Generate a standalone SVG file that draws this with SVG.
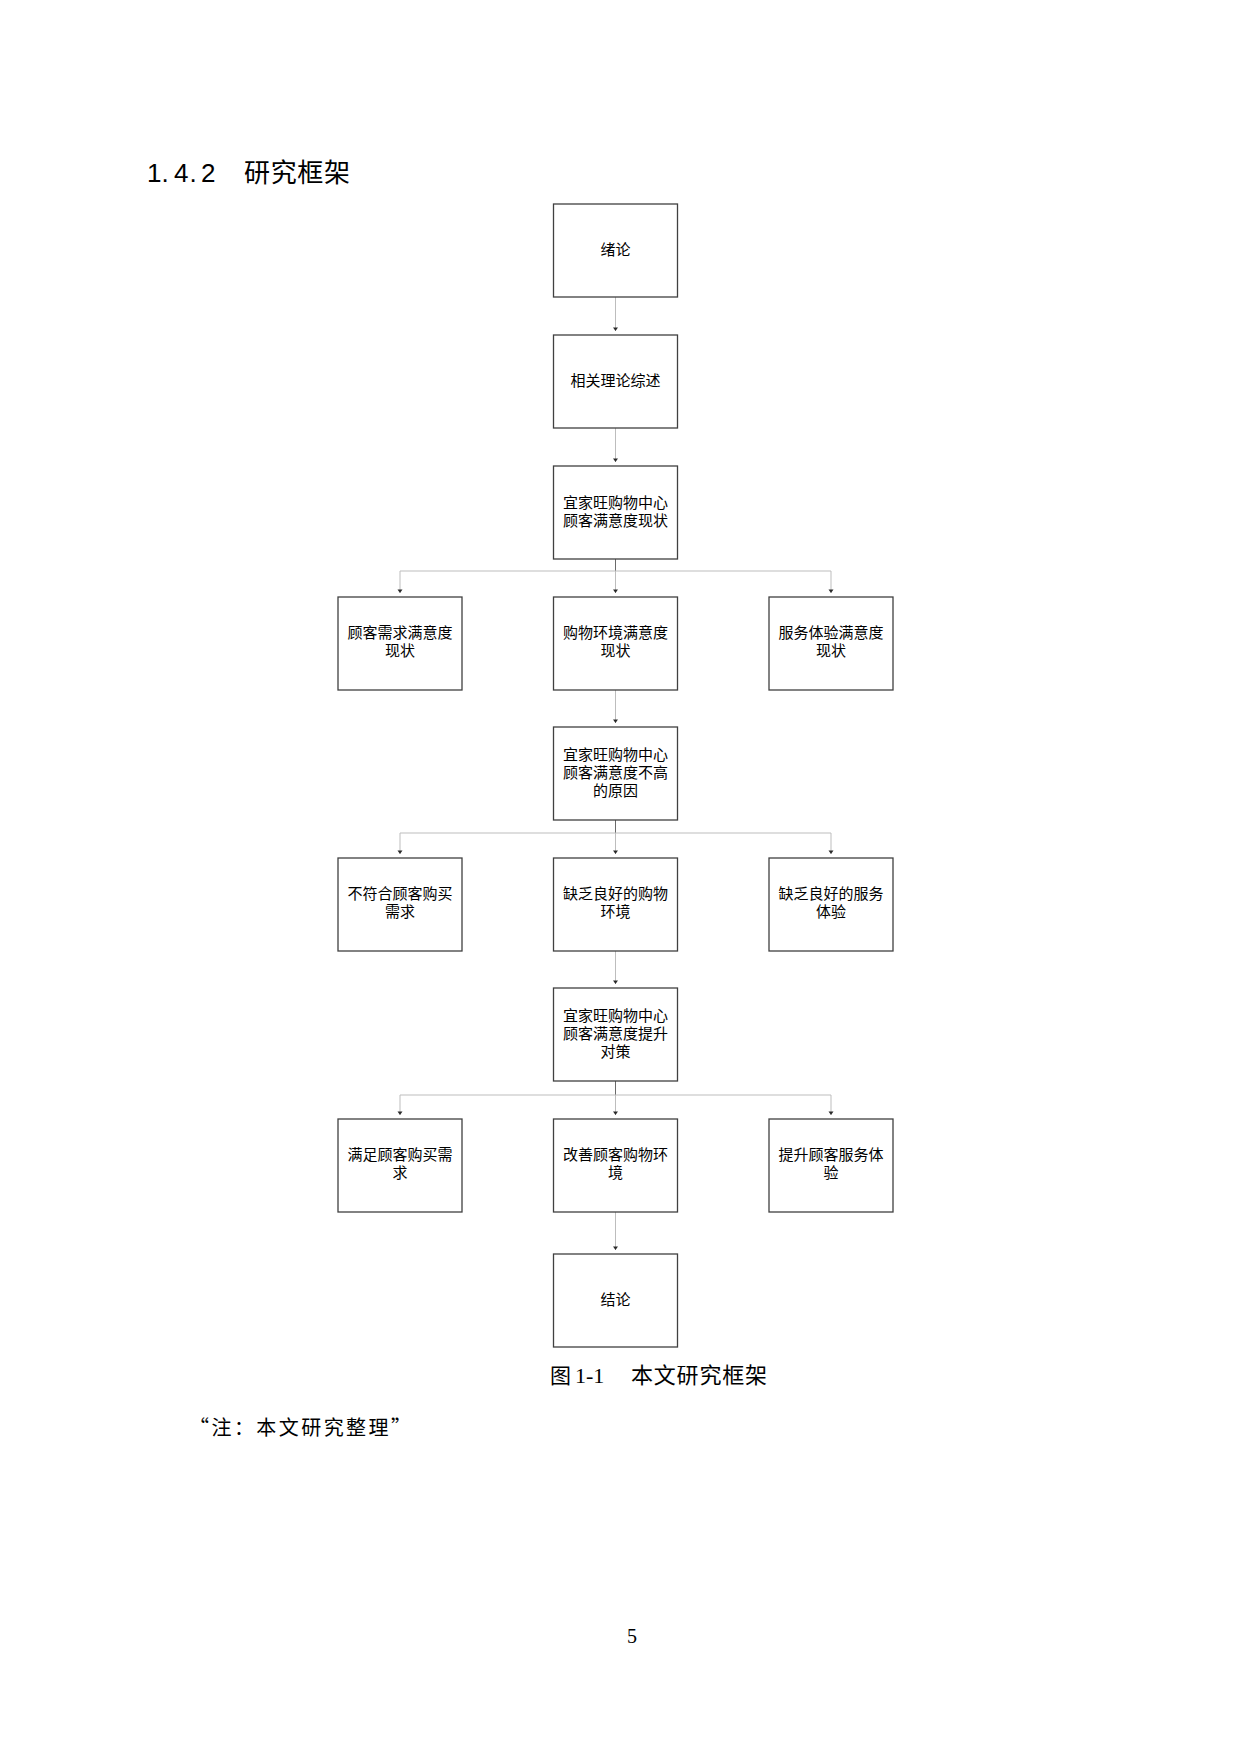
<svg xmlns="http://www.w3.org/2000/svg" width="1240" height="1754" viewBox="0 0 1240 1754">
<defs>
<style>
.box{fill:#fff;stroke:#404040;stroke-width:1.3}
.t{font-family:"Noto Sans CJK SC","Noto Sans CJK TC",sans-serif;font-size:15px;fill:#000;text-anchor:middle}
.ln{stroke:#bdbdbd;stroke-width:1;fill:none}
.stub{stroke:#6a6a6a;stroke-width:1;fill:none}
.ah{fill:#2a2a2a}
.hd{font-family:"Liberation Sans","Noto Sans CJK SC",sans-serif;font-size:26px;fill:#000}
.hdc{font-family:"Noto Sans CJK SC",sans-serif;font-size:26px;fill:#000}
</style>
</defs>
<rect width="1240" height="1754" fill="#fff"/>

<g id="heading">
<text class="hd" y="182"><tspan x="147">1</tspan><tspan x="161.5">.</tspan><tspan x="174">4</tspan><tspan x="189.5">.</tspan><tspan x="201">2</tspan></text>
<text class="hdc" x="244" y="182" textLength="106" lengthAdjust="spacing">研究框架</text>
</g>

<g id="connectors">
<line class="ln" x1="615.5" y1="297" x2="615.5" y2="331"/>
<polygon class="ah" points="613,327.5 618,327.5 615.5,331"/>
<line class="ln" x1="615.5" y1="428" x2="615.5" y2="462"/>
<polygon class="ah" points="613,458.5 618,458.5 615.5,462"/>
<line class="stub" x1="615.5" y1="559" x2="615.5" y2="571"/>
<polyline class="ln" points="400,593 400,571 831,571 831,593"/>
<line class="ln" x1="615.5" y1="571" x2="615.5" y2="593"/>
<polygon class="ah" points="397.5,589.5 402.5,589.5 400,593"/>
<polygon class="ah" points="613,589.5 618,589.5 615.5,593"/>
<polygon class="ah" points="828.5,589.5 833.5,589.5 831,593"/>
<line class="ln" x1="615.5" y1="690" x2="615.5" y2="723"/>
<polygon class="ah" points="613,719.5 618,719.5 615.5,723"/>
<line class="stub" x1="615.5" y1="820" x2="615.5" y2="833"/>
<polyline class="ln" points="400,854 400,833 831,833 831,854"/>
<line class="ln" x1="615.5" y1="833" x2="615.5" y2="854"/>
<polygon class="ah" points="397.5,850.5 402.5,850.5 400,854"/>
<polygon class="ah" points="613,850.5 618,850.5 615.5,854"/>
<polygon class="ah" points="828.5,850.5 833.5,850.5 831,854"/>
<line class="ln" x1="615.5" y1="951" x2="615.5" y2="984"/>
<polygon class="ah" points="613,980.5 618,980.5 615.5,984"/>
<line class="stub" x1="615.5" y1="1081" x2="615.5" y2="1095"/>
<polyline class="ln" points="400,1115 400,1095 831,1095 831,1115"/>
<line class="ln" x1="615.5" y1="1095" x2="615.5" y2="1115"/>
<polygon class="ah" points="397.5,1111.5 402.5,1111.5 400,1115"/>
<polygon class="ah" points="613,1111.5 618,1111.5 615.5,1115"/>
<polygon class="ah" points="828.5,1111.5 833.5,1111.5 831,1115"/>
<line class="ln" x1="615.5" y1="1212" x2="615.5" y2="1250"/>
<polygon class="ah" points="613,1246.5 618,1246.5 615.5,1250"/>
</g>

<g id="n1"><rect class="box" x="553.5" y="204" width="124" height="93"/><text class="t" x="615.5" y="255">绪论</text></g>
<g id="n2"><rect class="box" x="553.5" y="335" width="124" height="93"/><text class="t" x="615.5" y="386">相关理论综述</text></g>
<g id="n3"><rect class="box" x="553.5" y="466" width="124" height="93"/><text class="t" x="615.5" y="507.5">宜家旺购物中心</text><text class="t" x="615.5" y="525.5">顾客满意度现状</text></g>

<g id="n4a"><rect class="box" x="338" y="597" width="124" height="93"/><text class="t" x="400" y="638">顾客需求满意度</text><text class="t" x="400" y="656">现状</text></g>
<g id="n4b"><rect class="box" x="553.5" y="597" width="124" height="93"/><text class="t" x="615.5" y="638">购物环境满意度</text><text class="t" x="615.5" y="656">现状</text></g>
<g id="n4c"><rect class="box" x="769" y="597" width="124" height="93"/><text class="t" x="831" y="638">服务体验满意度</text><text class="t" x="831" y="656">现状</text></g>

<g id="n5"><rect class="box" x="553.5" y="727" width="124" height="93"/><text class="t" x="615.5" y="760">宜家旺购物中心</text><text class="t" x="615.5" y="778">顾客满意度不高</text><text class="t" x="615.5" y="796">的原因</text></g>

<g id="n6a"><rect class="box" x="338" y="858" width="124" height="93"/><text class="t" x="400" y="899">不符合顾客购买</text><text class="t" x="400" y="917">需求</text></g>
<g id="n6b"><rect class="box" x="553.5" y="858" width="124" height="93"/><text class="t" x="615.5" y="899">缺乏良好的购物</text><text class="t" x="615.5" y="917">环境</text></g>
<g id="n6c"><rect class="box" x="769" y="858" width="124" height="93"/><text class="t" x="831" y="899">缺乏良好的服务</text><text class="t" x="831" y="917">体验</text></g>

<g id="n7"><rect class="box" x="553.5" y="988" width="124" height="93"/><text class="t" x="615.5" y="1021">宜家旺购物中心</text><text class="t" x="615.5" y="1039">顾客满意度提升</text><text class="t" x="615.5" y="1057">对策</text></g>

<g id="n8a"><rect class="box" x="338" y="1119" width="124" height="93"/><text class="t" x="400" y="1160">满足顾客购买需</text><text class="t" x="400" y="1178">求</text></g>
<g id="n8b"><rect class="box" x="553.5" y="1119" width="124" height="93"/><text class="t" x="615.5" y="1160">改善顾客购物环</text><text class="t" x="615.5" y="1178">境</text></g>
<g id="n8c"><rect class="box" x="769" y="1119" width="124" height="93"/><text class="t" x="831" y="1160">提升顾客服务体</text><text class="t" x="831" y="1178">验</text></g>

<g id="n9"><rect class="box" x="553.5" y="1254" width="124" height="93"/><text class="t" x="615.5" y="1305">结论</text></g>

<g id="caption">
<text x="550" y="1383" style="font-family:'Noto Sans CJK SC',sans-serif;font-size:21px;fill:#000">图</text>
<text x="575" y="1383" style="font-family:'Liberation Serif',serif;font-size:22px;fill:#000">1-1</text>
<text x="631" y="1383" textLength="136" lengthAdjust="spacing" style="font-family:'Noto Sans CJK SC',sans-serif;font-size:22px;fill:#000">本文研究框架</text>
</g>

<g id="note">
<text x="189" y="1435" textLength="222" lengthAdjust="spacing" style="font-family:'Noto Sans CJK SC',sans-serif;font-size:20px;fill:#000">“注：本文研究整理”</text>
</g>

<g id="page">
<text x="632" y="1643" text-anchor="middle" style="font-family:'Liberation Serif',serif;font-size:20px;fill:#000">5</text>
</g>
</svg>
